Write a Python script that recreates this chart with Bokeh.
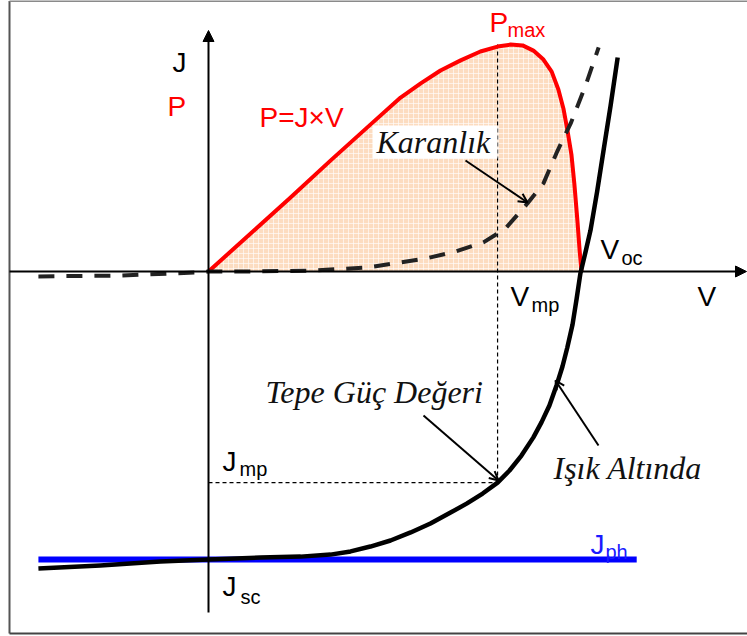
from bokeh.plotting import figure
from bokeh.models import Arrow, NormalHead, OpenHead
from bokeh.core.properties import value
from bokeh.embed import file_html
from bokeh.resources import INLINE

# ---- data: voltage normalised to V_oc, current density / power normalised to |J_sc| ----
# illuminated J-V curve
V_light = [-0.456, -0.290, -0.129, 0.000, 0.139, 0.247, 0.327, 0.381, 0.434, 0.488,
           0.542, 0.595, 0.649, 0.692, 0.735, 0.775, 0.807, 0.839, 0.871, 0.893,
           0.914, 0.933, 0.949, 0.962, 0.976, 0.987, 0.997, 1.011, 1.024, 1.042,
           1.059, 1.078, 1.097]
J_light = [-1.031, -1.021, -1.007, -1.000, -0.993, -0.990, -0.983, -0.972, -0.955, -0.934,
           -0.906, -0.875, -0.837, -0.806, -0.771, -0.733, -0.691, -0.639, -0.576, -0.523,
           -0.465, -0.396, -0.330, -0.264, -0.184, -0.094, -0.007, 0.069, 0.142, 0.278,
           0.420, 0.576, 0.743]
# dark J-V curve
V_dark = [-0.456, -0.236, -0.021, 0.000, 0.113, 0.274, 0.426, 0.582, 0.662, 0.737,
          0.796, 0.855, 0.898, 0.936, 0.971, 1.011, 1.046]
J_dark = [-0.017, -0.014, -0.003, 0.000, 0.000, 0.003, 0.014, 0.045, 0.069, 0.101,
          0.149, 0.236, 0.306, 0.420, 0.514, 0.646, 0.778]
# power curve P = J x V
V_pow = [0.000, 0.113, 0.220, 0.327, 0.434, 0.515, 0.569, 0.622, 0.676, 0.729,
         0.775, 0.810, 0.842, 0.871, 0.898, 0.920, 0.938, 0.952, 0.962, 0.973,
         0.981, 0.989, 0.995, 1.000]
P_pow = [0.000, 0.132, 0.257, 0.385, 0.510, 0.604, 0.653, 0.698, 0.733, 0.764,
         0.781, 0.788, 0.785, 0.767, 0.736, 0.694, 0.632, 0.563, 0.493, 0.406,
         0.302, 0.177, 0.073, 0.000]
# characteristic points
V_OC = 1.000
V_MP = 0.775
J_MP = -0.733
P_MAX = 0.788
J_SC = -1.000
J_PH = -1.000
V_PH_SPAN = [-0.456, 1.148]

W, H = 747, 636
PX_X, PX_Y = 373.0, 288.0          # pixels per unit
X0, Y0 = 208.0, 271.0              # origin position on the canvas
x_start, x_end = -X0 / PX_X, (W - X0) / PX_X
y_start, y_end = -(H - Y0) / PX_Y, Y0 / PX_Y


def at(px, py):
    """canvas pixel -> data coordinates (for annotations)"""
    return (px - X0) / PX_X, (Y0 - py) / PX_Y


p = figure(width=W, height=H, x_range=(x_start, x_end), y_range=(y_start, y_end),
           output_backend="svg", toolbar_location=None, min_border=0,
           outline_line_color=None, background_fill_color="white",
           border_fill_color="white")
p.axis.visible = False
p.grid.visible = False

# picture frame (left, top, bottom edges)
fx0, fy0 = at(9, 0.5)
fx1, fy1 = at(W, 633)
p.line([fx0, fx0], [fy0, fy1], line_color="#555555", line_width=2)
p.line([fx0, fx1], [fy0, fy0], line_color="#8a8a8a", line_width=2)
p.line([fx0, fx1], [fy1, fy1], line_color="#444444", line_width=2)

# shaded power area
p.patch(V_pow, P_pow, fill_color="#fcdcc0", line_color=None,
        hatch_pattern="+", hatch_color="white", hatch_scale=5,
        hatch_weight=1, hatch_alpha=0.6)

# maximum power point guides
p.line([V_MP, V_MP], [P_MAX, J_MP], line_color="black", line_width=1.2, line_dash="4 3")
p.line([0, V_MP], [J_MP, J_MP], line_color="black", line_width=1.2, line_dash="4 3")

# axes with arrow heads
ax_l, ax_b = at(9, 612)
ax_r, ax_t = at(746, 30)
p.add_layout(Arrow(end=NormalHead(size=11, fill_color="black", line_color="black"),
                   x_start=0, y_start=ax_b, x_end=0, y_end=ax_t,
                   line_color="black", line_width=2))
p.add_layout(Arrow(end=NormalHead(size=11, fill_color="black", line_color="black"),
                   x_start=ax_l, y_start=0, x_end=ax_r, y_end=0,
                   line_color="black", line_width=2))

# photo-generated current
p.line(V_PH_SPAN, [J_PH, J_PH], line_color="#0000ff", line_width=6)

# power curve
p.line(V_pow, P_pow, line_color="#ff0000", line_width=4, line_join="round")

# illuminated curve
p.line(V_light, J_light, line_color="black", line_width=4.5, line_join="round")

# dark curve
p.line(V_dark, J_dark, line_color="#222222", line_width=4, line_dash="16 12")

SANS = "Liberation Sans"
SERIF = "Liberation Serif"
BASE_SHIFT = 11   # px, lifts the text so its baseline sits on the requested row


def label(text, px, py, size, color="black", font=SANS, style="normal"):
    x, y = at(px, py - BASE_SHIFT)
    p.text(x=[x], y=[y], text=[text], text_font=value(font),
           text_font_size=value(f"{size}px"), text_color=color,
           text_font_style=style, text_baseline="alphabetic", text_align="left")


label("J", 172, 73, 28)
label("P", 167, 117, 28, "#ff0000")
label("P=J×V", 259, 128, 28, "#ff0000")
label("P", 489, 33, 28, "#ff0000")
label("max", 507, 40, 20, "#ff0000")
label("V", 600, 260, 28)
label("oc", 621, 268, 20)
label("V", 510, 307, 28)
label("mp", 531, 315, 20)
label("V", 697, 307, 28)
label("J", 222, 472, 28)
label("mp", 239, 479, 20)
label("J", 222, 597, 28)
label("sc", 240, 607, 20)
label("J", 590, 555, 28, "#1a1aff")
label("ph", 605, 562, 20, "#1a1aff")

# white backing behind the "dark" caption
bx0, by0 = at(372, 158)
bx1, by1 = at(497, 125)
p.quad(left=bx0, right=bx1, bottom=by0, top=by1, fill_color="white", line_color=None)

label("Karanlık", 376, 152, 32, "#111111", SERIF, "italic")
label("Tepe Güç Değeri", 265, 402, 32, "#111111", SERIF, "italic")
label("Işık Altında", 553, 478, 32, "#111111", SERIF, "italic")


def pointer(px0, py0, px1, py1):
    xa, ya = at(px0, py0)
    xb, yb = at(px1, py1)
    p.add_layout(Arrow(end=OpenHead(size=9, line_width=2, line_color="black"),
                       x_start=xa, y_start=ya, x_end=xb, y_end=yb,
                       line_color="black", line_width=2))


pointer(465, 160, 527, 202)
pointer(423, 415, 498, 480)
pointer(598, 445, 555, 380)

open("out.html", "w").write(file_html(p, INLINE))
